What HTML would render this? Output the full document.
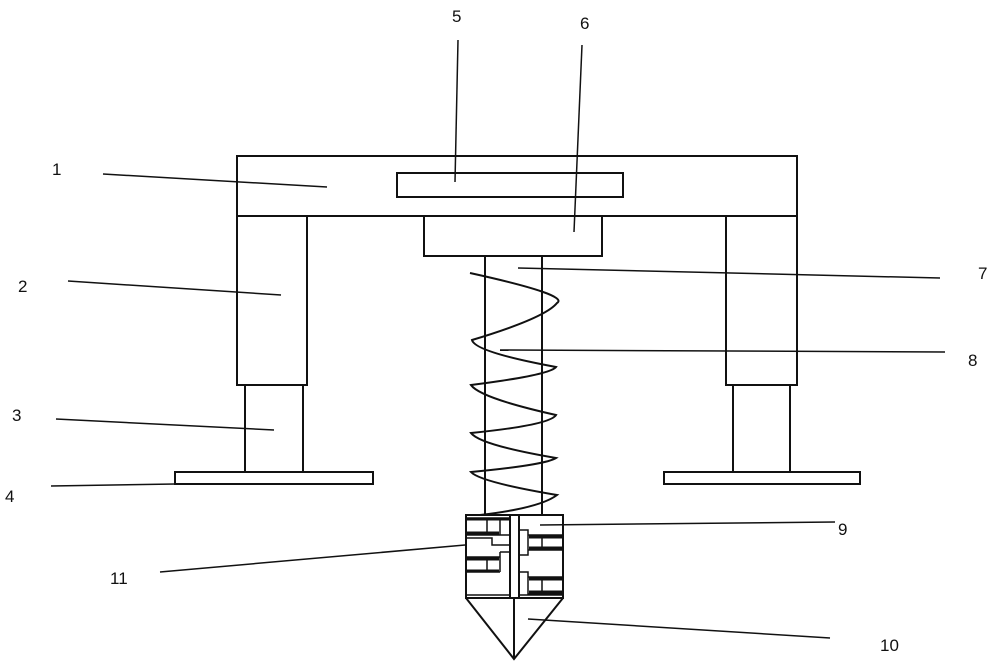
<!DOCTYPE html>
<html><head><style>
body{margin:0;background:#fff;}
svg{display:block}
text{font-family:"Liberation Sans",sans-serif;font-size:17px;fill:#111}
</style></head><body>
<svg width="1000" height="666" viewBox="0 0 1000 666" xmlns="http://www.w3.org/2000/svg">
<g fill="none" stroke="#111" stroke-width="2">
<rect x="237" y="156" width="560" height="60"/>
<rect x="397" y="173" width="226" height="24"/>
<rect x="424" y="216" width="178" height="40"/>
<rect x="237" y="216" width="70" height="169"/>
<rect x="245" y="385" width="58" height="87"/>
<rect x="175" y="472" width="198" height="12"/>
<rect x="726" y="216" width="71" height="169"/>
<rect x="733" y="385" width="57" height="87"/>
<rect x="664" y="472" width="196" height="12"/>
<line x1="485" y1="256" x2="485" y2="515"/>
<line x1="542" y1="256" x2="542" y2="515"/>
<path d="M470,273 Q570,295 557,303 Q545,318 472,340 Q475,352 556,367 Q550,375 471,385 Q480,398 556,415 Q550,425 471,433 Q480,445 556,458 Q545,465 471,472 Q480,482 557,495 Q540,508 480,515"/>
<rect x="466" y="515" width="97" height="83"/>
<rect x="510" y="515" width="9" height="83"/>
<path d="M466,598 L514,659 L563,598 M514,598 L514,659"/>
<g stroke-width="1.5">
<path d="M466,518 H510 M466,535 H500 M487,520 V535 M500,518 V535 M500,535 H510 M466,538 H492 V545 H510 M466,557 H500 M466,572 H500 M487,557 V572 M500,552 V572 M500,552 H510"/>
<path d="M563,535 H528 V550 H563 M542,535 V550 M528,535 V530 H519 M528,550 V555 H519 M563,577 H528 V594 H563 M542,577 V594 M528,577 V572 H519 M466,595 H510 M519,595 H563"/>
</g>
<g stroke-width="3">
<path d="M467,519 H509 M467,533 H499 M467,559 H499 M467,571 H499 M529,537 H562 M529,548 H562 M529,579 H562 M529,592 H562"/>
</g>
</g>
<g fill="none" stroke="#111" stroke-width="1.5">
<line x1="103" y1="174" x2="327" y2="187"/>
<line x1="68" y1="281" x2="281" y2="295"/>
<line x1="56" y1="419" x2="274" y2="430"/>
<line x1="51" y1="486" x2="175" y2="484"/>
<line x1="458" y1="40" x2="455" y2="182"/>
<line x1="582" y1="45" x2="574" y2="232"/>
<line x1="940" y1="278" x2="518" y2="268"/>
<line x1="945" y1="352" x2="500" y2="350"/>
<line x1="835" y1="522" x2="540" y2="525"/>
<line x1="830" y1="638" x2="528" y2="619"/>
<line x1="160" y1="572" x2="465" y2="545"/>
</g>
<text x="52" y="175">1</text>
<text x="18" y="292">2</text>
<text x="12" y="421">3</text>
<text x="5" y="502">4</text>
<text x="452" y="22">5</text>
<text x="580" y="29">6</text>
<text x="978" y="279">7</text>
<text x="968" y="366">8</text>
<text x="838" y="535">9</text>
<text x="880" y="651">10</text>
<text x="110" y="584">11</text>
</svg>
</body></html>
